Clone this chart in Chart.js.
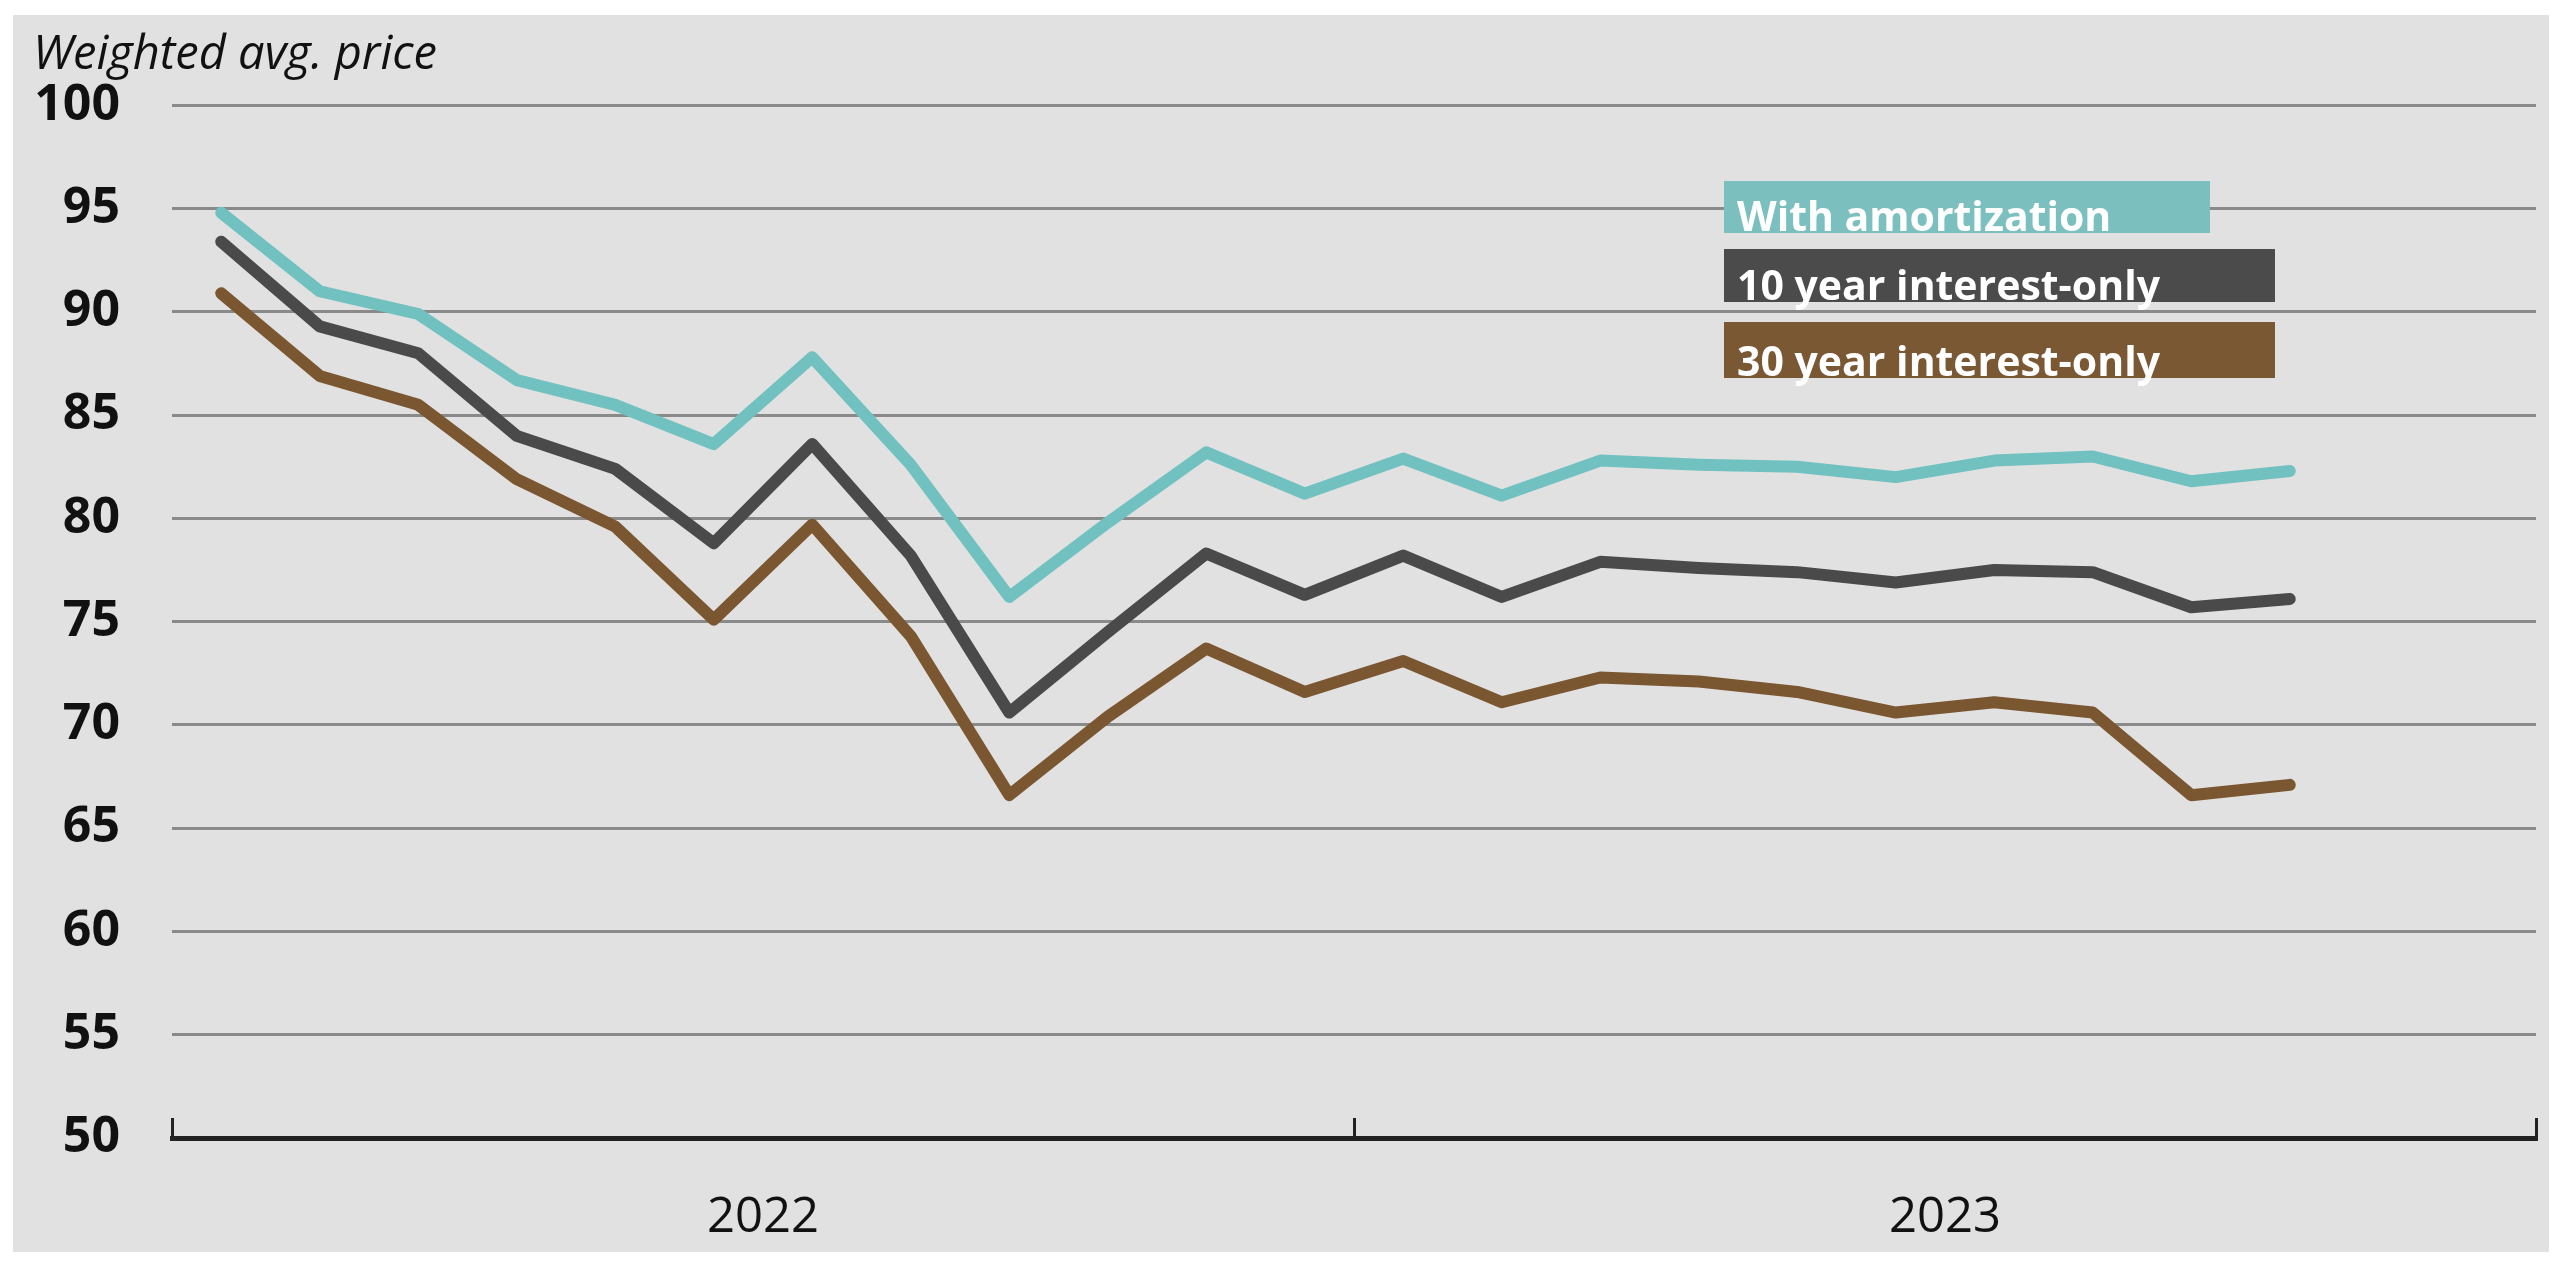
<!DOCTYPE html>
<html>
<head>
<meta charset="utf-8">
<title>Weighted avg. price</title>
<script src="https://cdn.jsdelivr.net/npm/chart.js@4.4.1/dist/chart.umd.min.js"></script>
<style>
  html, body { margin: 0; padding: 0; background: #fff; }
  #wrap { position: absolute; left: 13px; top: 15px; width: 2536px; height: 1237px; background: #e1e1e1; }
  canvas { display: block; }
</style>
</head>
<body>
<div id="wrap"><canvas id="priceChart"></canvas></div>
<script>
const months = ['Jan 2022', 'Feb 2022', 'Mar 2022', 'Apr 2022', 'May 2022', 'Jun 2022',
                'Jul 2022', 'Aug 2022', 'Sep 2022', 'Oct 2022', 'Nov 2022', 'Dec 2022',
                'Jan 2023', 'Feb 2023', 'Mar 2023', 'Apr 2023', 'May 2023', 'Jun 2023',
                'Jul 2023', 'Aug 2023', 'Sep 2023', 'Oct 2023', 'Nov 2023', 'Dec 2023'];
const yearLabels = ['2022', '2023'];
const seriesNames = ['With amortization', '10 year interest-only', '30 year interest-only'];

const withAmortization = [94.8, 91.0, 89.9, 86.7, 85.5, 83.6, 87.8, 82.6, 76.2, 79.8, 83.2, 81.2,
                          82.9, 81.1, 82.8, 82.6, 82.5, 82.0, 82.8, 83.0, 81.8, 82.3];
const tenYearIO = [93.4, 89.3, 88.0, 84.0, 82.4, 78.8, 83.6, 78.2, 70.6, 74.5, 78.3, 76.3,
                   78.2, 76.2, 77.9, 77.6, 77.4, 76.9, 77.5, 77.4, 75.7, 76.1];
const thirtyYearIO = [90.9, 86.9, 85.5, 81.9, 79.6, 75.1, 79.7, 74.3, 66.6, 70.4, 73.7, 71.6,
                      73.1, 71.1, 72.3, 72.1, 71.6, 70.6, 71.1, 70.6, 66.6, 67.1];

const sans = "'Open Sans', sans-serif";

// legend drawn as coloured bars with the series name on top
const boxLegend = {
    id: 'boxLegend',
    afterDraw(chart, args, opts) {
        const ctx = chart.ctx;
        ctx.save();
        ctx.font = opts.font;
        ctx.textBaseline = 'alphabetic';
        chart.data.datasets.forEach((ds, i) => {
            const b = opts.boxes[i];
            ctx.fillStyle = ds.boxColor;
            ctx.fillRect(b.x, b.y, b.w, b.h);
            ctx.fillStyle = '#fff';
            ctx.fillText(ds.label, b.x + 13, b.y + b.h - 2);
        });
        ctx.restore();
    }
};

const ctx = document.getElementById('priceChart');

var chartData = {
    labels: months,
    datasets: [{
        label: seriesNames[0],
        data: withAmortization,
        borderColor: '#70c1c0',
        boxColor: '#7cbfbf',
        xAxisID: 'x'
    }, {
        label: seriesNames[1],
        data: tenYearIO,
        borderColor: '#4a4a4a',
        boxColor: '#4b4b4b',
        xAxisID: 'x'
    }, {
        label: seriesNames[2],
        data: thirtyYearIO,
        borderColor: '#7a5631',
        boxColor: '#7a5833',
        xAxisID: 'x'
    }]
};

var chartOptions = {
    responsive: true,
    maintainAspectRatio: false,
    animation: false,
    layout: { padding: { left: 20, right: 13, top: 0, bottom: 0 } },
    elements: {
        line: { borderWidth: 12, tension: 0, borderCapStyle: 'round', borderJoinStyle: 'round', fill: false },
        point: { radius: 0, hoverRadius: 0 }
    },
    scales: {
        x: {
            type: 'category',
            offset: true,
            display: false
        },
        year: {
            type: 'category',
            axis: 'x',
            position: 'bottom',
            labels: yearLabels,
            offset: true,
            grid: { offset: true, drawOnChartArea: false, drawTicks: true, tickLength: -20, color: '#222', lineWidth: 3 },
            border: { display: true, color: '#222', width: 5 },
            ticks: { color: '#111', padding: 71, font: { family: sans, size: 49 } },
            afterFit: function(s) { s.height = 114; }
        },
        y: {
            min: 50,
            max: 100,
            ticks: { stepSize: 5, color: '#111', padding: 52, font: { family: sans, weight: 'bold', size: 50 } },
            grid: {
                drawTicks: false,
                lineWidth: 3,
                color: function(c) { return c.tick && c.tick.value === 50 ? 'rgba(0,0,0,0)' : '#8a8a8a'; }
            },
            border: { display: false },
            afterFit: function(s) { s.width = 139; }
        }
    },
    plugins: {
        legend: { display: false },
        tooltip: { enabled: false },
        title: {
            display: true,
            text: 'Weighted avg. price',
            align: 'start',
            color: '#111',
            font: { family: sans, style: 'italic', weight: 'normal', size: 47 },
            padding: { top: 12, bottom: 22 }
        },
        boxLegend: {
            font: "bold 41px 'Open Sans', sans-serif",
            boxes: [
                { x: 1711, y: 166, w: 486, h: 52 },
                { x: 1711, y: 234, w: 551, h: 53 },
                { x: 1711, y: 307, w: 551, h: 56 }
            ]
        }
    }
};

var myChart = new Chart(ctx, {
    type: 'line',
    data: chartData,
    options: chartOptions,
    plugins: [boxLegend]
});
</script>
</body>
</html>
